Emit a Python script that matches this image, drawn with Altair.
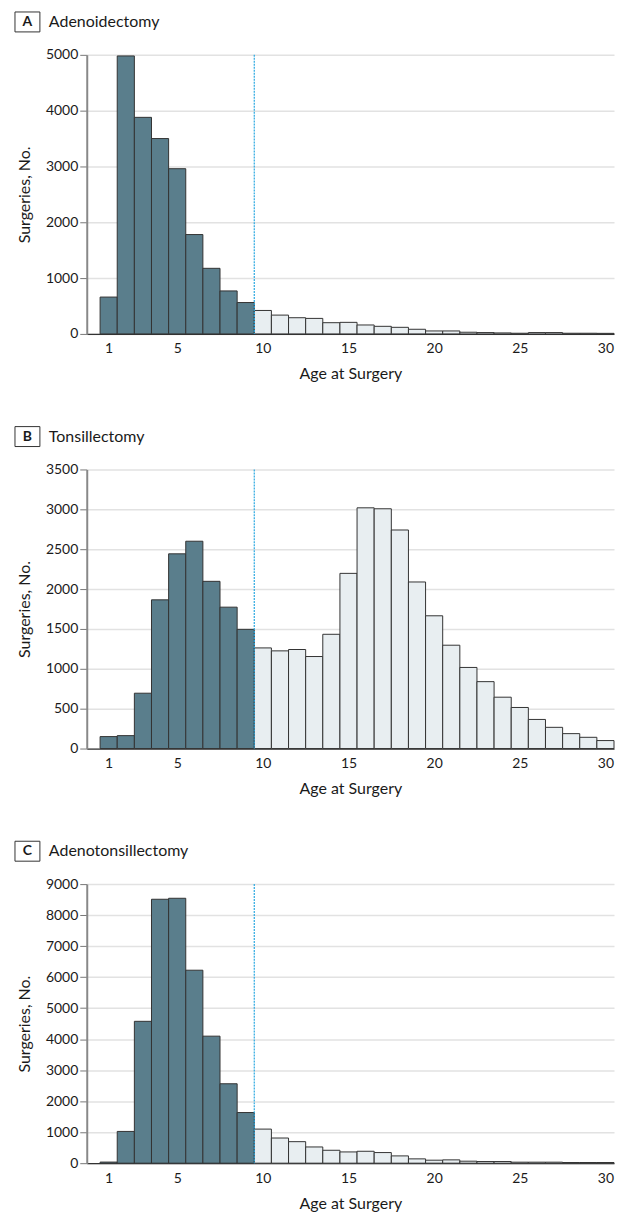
import altair as alt
import pandas as pd

ages = list(range(1, 31))

adeno = [660, 4980, 3880, 3500, 2960, 1780, 1175, 770, 562,
         420, 337, 290, 278, 201, 207, 160, 136, 118, 83, 53,
         53, 30, 24, 18, 12, 24, 24, 12, 12, 10]

tonsil = [150, 162, 694, 1865, 2442, 2600, 2097, 1773, 1495,
          1262, 1225, 1242, 1154, 1433, 2197, 3019, 3007, 2741, 2089, 1665,
          1296, 1017, 839, 644, 515, 365, 266, 187, 141, 100]

adenoton = [35, 1024, 4575, 8511, 8543, 6223, 4096, 2561, 1633,
            1099, 811, 694, 523, 416, 363, 384, 342, 235, 139, 96,
            107, 64, 53, 53, 32, 32, 32, 21, 21, 21]

panels = [
    ("A", "Adenoidectomy", adeno, 5000, [0, 1000, 2000, 3000, 4000, 5000]),
    ("B", "Tonsillectomy", tonsil, 3500, [0, 500, 1000, 1500, 2000, 2500, 3000, 3500]),
    ("C", "Adenotonsillectomy", adenoton, 9000, list(range(0, 9001, 1000))),
]

x_ticks = [1, 5, 10, 15, 20, 25, 30]
cutoff = [9.5]

FONT = "Lato"
DARK = "#5a7e8c"
LIGHT = "#e8eef1"


def make_panel(letter, name, values, ymax, yticks):
    df = pd.DataFrame({"age": ages, "count": values})
    df["grp"] = ["young" if a <= 9 else "old" for a in ages]

    xscale = alt.Scale(domain=[-0.28, 30.5], nice=False, zero=False)
    yscale = alt.Scale(domain=[0, ymax], nice=False)

    bars = alt.Chart(df).transform_calculate(
        x0="datum.age - 0.5", x1="datum.age + 0.5"
    ).mark_bar(stroke="#333333", strokeWidth=1).encode(
        x=alt.X("x0:Q", scale=xscale,
                axis=alt.Axis(values=x_ticks, title="Age at Surgery", grid=False,
                              ticks=False, labelPadding=8, domainColor="#333333",
                              domainWidth=1.2, titlePadding=10, format="d")),
        x2="x1:Q",
        y=alt.Y("count:Q", scale=yscale,
                axis=alt.Axis(values=yticks, title="Surgeries, No.", grid=True,
                              gridColor="#e2e2e2", gridWidth=1.5, tickColor="#777777",
                              tickSize=7, labelPadding=2, domainColor="#888888",
                              domainWidth=2, titlePadding=13, format="d")),
        y2=alt.datum(0),
        fill=alt.Fill("grp:N", scale=alt.Scale(domain=["young", "old"], range=[DARK, LIGHT]),
                      legend=None),
    )

    rule = alt.Chart(pd.DataFrame({"x": cutoff})).mark_rule(
        color="#2aa8e0", strokeDash=[2, 1], strokeWidth=1.2
    ).encode(x=alt.X("x:Q", scale=xscale))

    box = alt.Chart(pd.DataFrame({"t": [letter]})).mark_rect(
        fill="white", stroke="#333333", strokeWidth=1
    ).encode(x=alt.value(-72), x2=alt.value(-47), y=alt.value(-43), y2=alt.value(-23))

    letter_txt = alt.Chart(pd.DataFrame({"t": [letter]})).mark_text(
        font=FONT, fontSize=14, fontWeight="bold", color="#1a1a1a",
        align="center", baseline="middle"
    ).encode(x=alt.value(-59.5), y=alt.value(-33), text="t:N")

    name_txt = alt.Chart(pd.DataFrame({"t": [name]})).mark_text(
        font=FONT, fontSize=16, color="#1a1a1a", align="left", baseline="middle"
    ).encode(x=alt.value(-38), y=alt.value(-33), text="t:N")

    return alt.layer(bars, rule, box, letter_txt, name_txt).properties(width=529, height=280)


chart = alt.vconcat(*[make_panel(*p) for p in panels], spacing=44).properties(
    padding={"left": 6, "top": 1, "right": 0, "bottom": 0}
).configure_view(stroke=None).configure_axis(
    labelFont=FONT, titleFont=FONT, labelFontSize=14, titleFontSize=16,
    labelColor="#1a1a1a", titleColor="#1a1a1a", titleFontWeight="normal"
)

chart.save("out.html", embed_options={"renderer": "svg", "actions": False})
